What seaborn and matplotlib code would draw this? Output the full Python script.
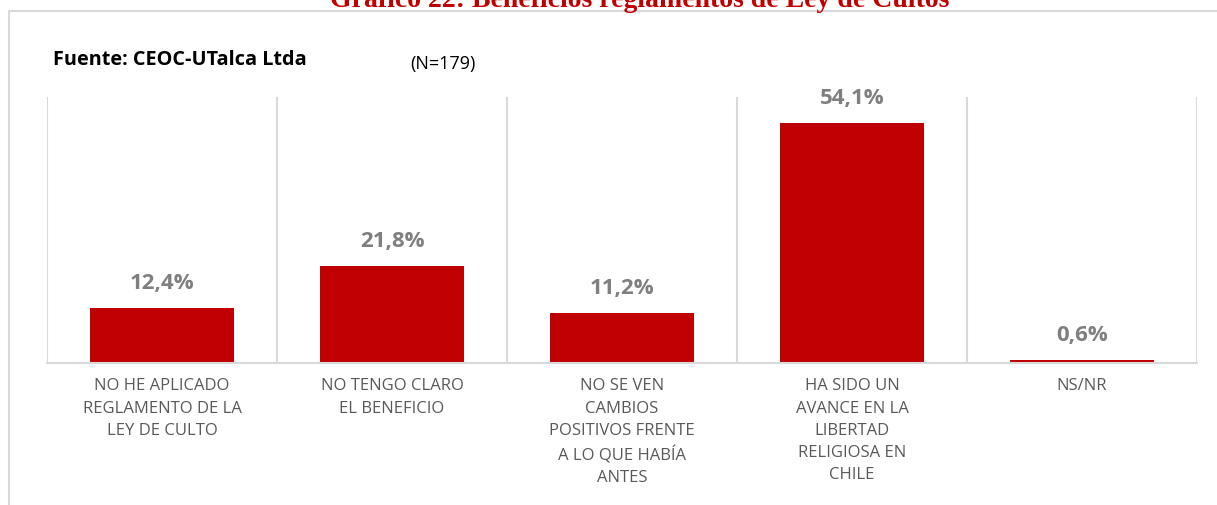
import matplotlib
matplotlib.use("Agg")
import matplotlib.pyplot as plt
import seaborn as sns
import pandas as pd
from matplotlib.lines import Line2D

categories = [
    "NO HE APLICADO\nREGLAMENTO DE LA\nLEY DE CULTO",
    "NO TENGO CLARO\nEL BENEFICIO",
    "NO SE VEN\nCAMBIOS\nPOSITIVOS FRENTE\nA LO QUE HABÍA\nANTES",
    "HA SIDO UN\nAVANCE EN LA\nLIBERTAD\nRELIGIOSA EN\nCHILE",
    "NS/NR",
]
values = [12.4, 21.8, 11.2, 54.1, 0.6]
value_labels = ["12,4%", "21,8%", "11,2%", "54,1%", "0,6%"]

df = pd.DataFrame({"categoria": categories, "pct": values})

sns.set_style("white")
plt.rcParams["font.family"] = ["Open Sans", "DejaVu Sans"]

fig = plt.figure(figsize=(12.17, 5.05), dpi=100)
ax = fig.add_axes([47 / 1217, 1 - 363 / 505, 1150 / 1217, 266 / 505])

sns.barplot(data=df, x="categoria", y="pct", color="#c00000", width=0.626,
            saturation=1, linewidth=0, edgecolor="none", ax=ax)

ax.set_ylim(0, 60)
ax.set_xlim(-0.5, 4.5)
ax.set_yticks([])
ax.set_xlabel("")
ax.set_ylabel("")
for s in ["top", "left", "right"]:
    ax.spines[s].set_visible(False)
ax.spines["bottom"].set_color("#d9d9d9")
ax.spines["bottom"].set_linewidth(1.5)

# separadores entre categorias
ax.vlines([i - 0.5 for i in range(len(categories) + 1)], 0, 60,
          color="#d9d9d9", linewidth=1.5, zorder=0)

for i, (v, lab) in enumerate(zip(values, value_labels)):
    ax.annotate(lab, (i, v), xytext=(0, 13.7), textcoords="offset points",
                ha="center", va="baseline", fontsize=16, fontweight="bold",
                color="#7f7f7f")

ax.set_xticks(range(len(categories)))
ax.set_xticklabels(categories, fontsize=12, color="#595959",
                   linespacing=1.52, va="top")
ax.tick_params(axis="x", length=0, pad=11)

# marco exterior
fig.add_artist(Line2D([9 / 1217, 9 / 1217], [0, 1 - 11 / 505],
                      transform=fig.transFigure, color="#d9d9d9", linewidth=1.5))
fig.add_artist(Line2D([9 / 1217, 1], [1 - 11 / 505, 1 - 11 / 505],
                      transform=fig.transFigure, color="#d9d9d9", linewidth=1.5))

fig.text(640 / 1217, 1 - 7 / 505, "Gráfico 22: Beneficios reglamentos de Ley de Cultos",
         ha="center", va="baseline", fontsize=20, fontweight="bold",
         color="#c00000", family=["Liberation Serif", "DejaVu Serif"])
fig.text(53 / 1217, 1 - 60 / 505, "Fuente: CEOC-UTalca Ltda", ha="left",
         va="center", fontsize=14.3, fontweight="bold", color="black")
fig.text(410 / 1217, 1 - 64 / 505, "(N=179)", ha="left", va="center",
         fontsize=13, color="black")

fig.savefig("out.png", dpi=100)
